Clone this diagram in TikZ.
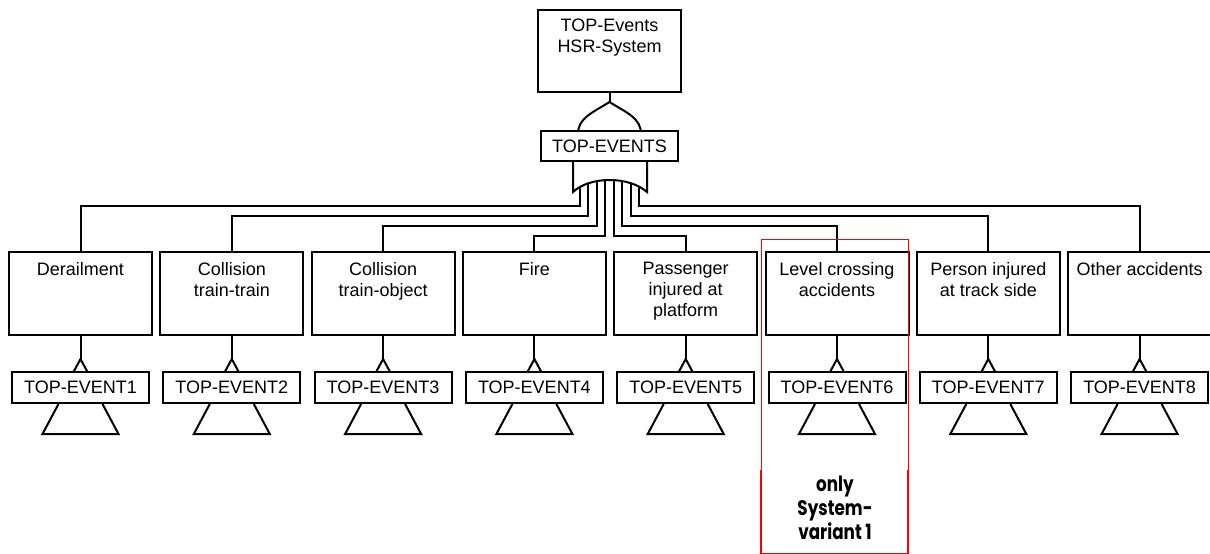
\documentclass[tikz,border=0pt]{standalone}
\usepackage{fontspec}
\setmainfont{Liberation Sans}
\newfontfamily\redfont{Poppins}
\begin{document}
\begin{tikzpicture}[x=1pt,y=-1pt,line width=2pt,
  evbox/.style={draw,fill=white,minimum width=143pt,minimum height=83pt,inner sep=0pt},
  evtext/.style={anchor=north,inner sep=0pt,align=center,font=\fontsize{18}{21}\selectfont},
  tevbox/.style={draw,fill=white,minimum width=137pt,minimum height=31pt,inner sep=0pt,font=\fontsize{18}{21}\selectfont},
  wire/.style={line width=2pt},
  gatefill/.style={line width=2pt,fill=white},
  redframe/.style={draw=red,line width=0.9pt},
  redthick/.style={draw=red,line width=2.6pt}]
\useasboundingbox (0,0) rectangle (1210,554);

% event boxes and transfer symbols
\foreach \i/\cx/\txt in {1/80.5/{Derailment},2/231.8/{Collision\\train-train},3/383.1/{Collision\\train-object},4/534.4/{Fire},5/685.7/{Passenger\\injured at\\platform},6/837/{Level crossing\\accidents},7/988.3/{Person injured\\at track side},8/1139.6/{Other accidents}}{
  \node[evbox] (b\i) at (\cx,293.5) {};
  \node[evtext] (l\i) at (\cx,261.5) {\txt};
  \coordinate (apex\i) at (\cx,359);
  \draw[wire] (b\i.south) -- (apex\i);
  \draw[wire] ([xshift=-7pt]apex\i |- 0,372) -- (apex\i) -- ([xshift=7pt]apex\i |- 0,372);
  \node[tevbox] (t\i) at (\cx,387.5) {TOP-EVENT\i};
  \draw[wire] ([xshift=-22pt]t\i.south) -- ([xshift=-38pt,yshift=-30pt]t\i.south) -- ([xshift=38pt,yshift=-30pt]t\i.south) -- ([xshift=22pt]t\i.south);
}

% gate inputs
\coordinate (in1) at (580,185);
\coordinate (in2) at (588.3,182);
\coordinate (in3) at (596.6,179.5);
\coordinate (in4) at (605,178.5);
\coordinate (in5) at (614,178.5);
\coordinate (in6) at (622.4,179.5);
\coordinate (in7) at (630.7,182);
\coordinate (in8) at (639,185);

\draw[wire] (in1) |- ([yshift=45pt]b1.north) -- (b1.north);
\draw[wire] (in2) |- ([yshift=35pt]b2.north) -- (b2.north);
\draw[wire] (in3) |- ([yshift=25pt]b3.north) -- (b3.north);
\draw[wire] (in4) |- ([yshift=15pt]b4.north) -- (b4.north);
\draw[wire] (in5) |- ([yshift=15pt]b5.north) -- (b5.north);
\draw[wire] (in6) |- ([yshift=25pt]b6.north) -- (b6.north);
\draw[wire] (in7) |- ([yshift=35pt]b7.north) -- (b7.north);
\draw[wire] (in8) |- ([yshift=45pt]b8.north) -- (b8.north);

% lower OR gate (only its back is visible)
\draw[gatefill] (573,155) -- (573,192) .. controls (590,176) and (629,176) .. (647,192) -- (647,155);

% upper OR gate
\coordinate (orTip) at (609.5,102);
\draw[gatefill] (orTip) .. controls (592,113) and (578,118) .. (578,134) -- (641,134) .. controls (641,118) and (627,113) .. (orTip);

\node[tevbox,minimum width=137pt,minimum height=30pt] (mid) at (609.5,146) {TOP-EVENTS};

% top event
\node[draw,fill=white,minimum width=143pt,minimum height=82pt,inner sep=0pt] (top) at (609.5,51) {};
\node[evtext] (toptext) at (609.5,17.5) {TOP-Events\\HSR-System};
\draw[wire] (top.south) -- (orTip);

% system-variant frame
\draw[redframe] (761,239) rectangle (908,553);
\draw[redthick] (761,470) -- (761,554);
\draw[redthick] (908,470) -- (908,554);
\node[anchor=north,inner sep=0pt,align=center,font=\redfont\bfseries\fontsize{21}{24}\selectfont] (note) at (835,475) {\scalebox{0.8}[1]{only}\\\scalebox{0.8}[1]{System-}\\\scalebox{0.8}[1]{variant 1}};
\end{tikzpicture}
\end{document}
